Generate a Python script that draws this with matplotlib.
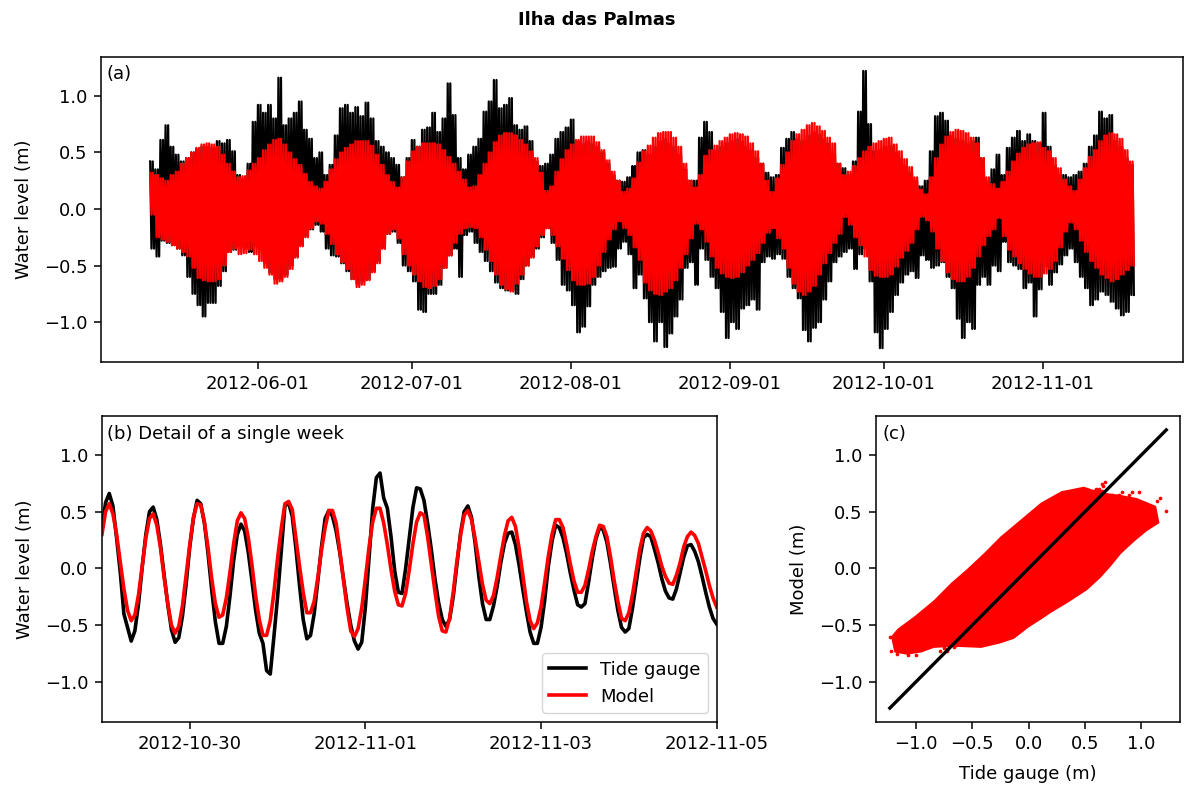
import matplotlib.pyplot as plt
import matplotlib.dates as mdates
import numpy as np
import pandas as pd

# daily high / low water levels (m), 2012-05-11 .. 2012-11-18
gauge_high = [0.42, 0.35, 0.61, 0.74, 0.55, 0.48, 0.42, 0.45, 0.50, 0.53,
              0.55, 0.55, 0.54, 0.60, 0.58, 0.61, 0.51, 0.30, 0.27, 0.40,
              0.77, 0.92, 0.85, 0.92, 0.80, 1.16, 0.74, 0.80, 0.85, 0.95,
              0.70, 0.62, 0.45, 0.50, 0.30, 0.39, 0.65, 0.89, 0.92, 0.85,
              0.90, 0.82, 0.94, 0.80, 0.60, 0.55, 0.50, 0.45, 0.39, 0.28,
              0.45, 0.61, 0.55, 0.70, 0.72, 0.85, 0.68, 0.80, 1.11, 0.83,
              0.45, 0.35, 0.48, 0.55, 0.62, 0.86, 0.95, 1.14, 0.89, 0.92,
              0.98, 0.74, 0.70, 0.73, 0.60, 0.42, 0.38, 0.40, 0.48, 0.62,
              0.68, 0.72, 0.79, 0.60, 0.58, 0.60, 0.58, 0.55, 0.50, 0.40,
              0.30, 0.25, 0.24, 0.28, 0.38, 0.50, 0.52, 0.48, 0.55, 0.60,
              0.62, 0.58, 0.55, 0.48, 0.35, 0.25, 0.25, 0.63, 0.77, 0.68,
              0.52, 0.55, 0.58, 0.60, 0.62, 0.60, 0.55, 0.52, 0.45, 0.40,
              0.32, 0.28, 0.30, 0.54, 0.62, 0.68, 0.62, 0.60, 0.65, 0.68,
              0.66, 0.62, 0.58, 0.48, 0.40, 0.36, 0.30, 0.42, 0.86, 1.22,
              0.75, 0.51, 0.52, 0.55, 0.56, 0.50, 0.45, 0.38, 0.32, 0.25,
              0.20, 0.25, 0.51, 0.82, 0.85, 0.78, 0.65, 0.62, 0.60, 0.58,
              0.60, 0.63, 0.45, 0.24, 0.35, 0.48, 0.30, 0.54, 0.63, 0.69,
              0.60, 0.66, 0.60, 0.58, 0.85, 0.55, 0.38, 0.30, 0.30, 0.28,
              0.30, 0.33, 0.40, 0.55, 0.65, 0.86, 0.80, 0.83, 0.60, 0.55,
              0.45, 0.39]
gauge_low = [-0.35, -0.42, -0.28, -0.30, -0.32, -0.35, -0.41, -0.60, -0.75, -0.85,
             -0.95, -0.83, -0.83, -0.68, -0.55, -0.38, -0.36, -0.33, -0.35, -0.38,
             -0.33, -0.35, -0.48, -0.56, -0.62, -0.62, -0.58, -0.50, -0.42, -0.32,
             -0.24, -0.18, -0.14, -0.20, -0.35, -0.41, -0.42, -0.48, -0.55, -0.62,
             -0.66, -0.64, -0.62, -0.55, -0.46, -0.35, -0.22, -0.20, -0.30, -0.50,
             -0.55, -0.64, -0.89, -0.91, -0.75, -0.75, -0.67, -0.52, -0.41, -0.35,
             -0.60, -0.23, -0.20, -0.30, -0.38, -0.46, -0.55, -0.65, -0.70, -0.72,
             -0.72, -0.75, -0.62, -0.50, -0.42, -0.35, -0.25, -0.17, -0.30, -0.45,
             -0.67, -0.72, -0.85, -1.09, -1.04, -0.86, -0.67, -0.60, -0.55, -0.52,
             -0.51, -0.35, -0.29, -0.40, -0.70, -0.58, -0.79, -1.00, -1.17, -1.00,
             -1.22, -1.10, -0.95, -0.80, -0.52, -0.47, -0.67, -0.35, -0.45, -0.60,
             -0.70, -0.91, -1.14, -1.00, -1.06, -0.88, -0.85, -0.80, -0.89, -0.47,
             -0.42, -0.44, -0.40, -0.44, -0.60, -0.70, -0.79, -1.07, -1.17, -1.05,
             -1.00, -0.80, -0.64, -0.47, -0.42, -0.38, -0.35, -0.53, -0.40, -0.35,
             -0.64, -1.09, -1.23, -1.06, -0.91, -0.76, -0.65, -0.58, -0.55, -0.61,
             -0.41, -0.45, -0.52, -0.50, -0.47, -0.60, -0.70, -0.97, -1.14, -1.00,
             -1.06, -0.67, -0.60, -0.67, -0.50, -0.55, -0.29, -0.47, -0.50, -0.53,
             -0.70, -0.65, -0.95, -0.71, -0.51, -0.67, -0.56, -0.49, -0.41, -0.35,
             -0.47, -0.60, -0.70, -0.85, -0.80, -0.73, -0.76, -0.82, -0.88, -0.94,
             -0.91, -0.76]
model_high = [0.32, 0.30, 0.27, 0.25, 0.30, 0.33, 0.40, 0.45, 0.50, 0.54,
              0.57, 0.58, 0.57, 0.55, 0.48, 0.40, 0.33, 0.28, 0.29, 0.34,
              0.40, 0.45, 0.52, 0.57, 0.61, 0.62, 0.57, 0.50, 0.44, 0.39,
              0.31, 0.24, 0.20, 0.18, 0.24, 0.35, 0.44, 0.50, 0.54, 0.57,
              0.60, 0.60, 0.60, 0.56, 0.48, 0.39, 0.30, 0.24, 0.19, 0.28,
              0.42, 0.51, 0.55, 0.58, 0.58, 0.58, 0.57, 0.52, 0.46, 0.40,
              0.33, 0.26, 0.19, 0.20, 0.30, 0.40, 0.50, 0.59, 0.65, 0.67,
              0.67, 0.65, 0.61, 0.57, 0.51, 0.45, 0.32, 0.16, 0.20, 0.33,
              0.44, 0.52, 0.57, 0.61, 0.64, 0.64, 0.64, 0.59, 0.52, 0.43,
              0.33, 0.25, 0.15, 0.18, 0.27, 0.41, 0.51, 0.56, 0.63, 0.67,
              0.68, 0.68, 0.63, 0.55, 0.40, 0.25, 0.19, 0.30, 0.47, 0.52,
              0.56, 0.60, 0.63, 0.66, 0.67, 0.66, 0.64, 0.58, 0.51, 0.40,
              0.25, 0.15, 0.27, 0.39, 0.50, 0.60, 0.66, 0.70, 0.74, 0.76,
              0.73, 0.69, 0.63, 0.58, 0.40, 0.30, 0.33, 0.38, 0.45, 0.51,
              0.55, 0.58, 0.60, 0.62, 0.63, 0.57, 0.51, 0.44, 0.37, 0.28,
              0.17, 0.13, 0.28, 0.45, 0.57, 0.64, 0.68, 0.70, 0.69, 0.67,
              0.63, 0.58, 0.45, 0.28, 0.22, 0.18, 0.24, 0.33, 0.42, 0.49,
              0.54, 0.57, 0.58, 0.59, 0.54, 0.51, 0.45, 0.36, 0.26, 0.20,
              0.16, 0.26, 0.36, 0.46, 0.52, 0.60, 0.65, 0.67, 0.66, 0.62,
              0.52, 0.42]
model_low = [-0.05, -0.25, -0.27, -0.29, -0.32, -0.35, -0.38, -0.42, -0.52, -0.61,
             -0.63, -0.64, -0.64, -0.62, -0.50, -0.38, -0.35, -0.40, -0.39, -0.36,
             -0.40, -0.46, -0.52, -0.58, -0.66, -0.64, -0.60, -0.53, -0.43, -0.33,
             -0.25, -0.17, -0.11, -0.13, -0.22, -0.31, -0.40, -0.47, -0.53, -0.62,
             -0.69, -0.67, -0.63, -0.56, -0.48, -0.35, -0.22, -0.18, -0.26, -0.40,
             -0.50, -0.58, -0.64, -0.69, -0.70, -0.68, -0.62, -0.52, -0.41, -0.30,
             -0.22, -0.17, -0.16, -0.17, -0.25, -0.36, -0.46, -0.58, -0.67, -0.71,
             -0.73, -0.66, -0.58, -0.50, -0.43, -0.33, -0.23, -0.17, -0.23, -0.33,
             -0.44, -0.54, -0.63, -0.67, -0.67, -0.66, -0.60, -0.50, -0.38, -0.27,
             -0.18, -0.11, -0.17, -0.23, -0.34, -0.45, -0.65, -0.72, -0.75, -0.76,
             -0.73, -0.70, -0.63, -0.52, -0.40, -0.26, -0.13, -0.18, -0.29, -0.42,
             -0.52, -0.57, -0.60, -0.61, -0.60, -0.56, -0.50, -0.45, -0.39, -0.30,
             -0.21, -0.17, -0.26, -0.35, -0.52, -0.66, -0.73, -0.76, -0.73, -0.68,
             -0.58, -0.48, -0.39, -0.30, -0.22, -0.07, -0.14, -0.25, -0.32, -0.42,
             -0.54, -0.59, -0.60, -0.60, -0.58, -0.51, -0.43, -0.37, -0.30, -0.18,
             -0.07, -0.10, -0.20, -0.35, -0.46, -0.56, -0.62, -0.64, -0.64, -0.60,
             -0.52, -0.42, -0.32, -0.24, -0.18, -0.08, -0.24, -0.36, -0.42, -0.48,
             -0.53, -0.57, -0.60, -0.60, -0.57, -0.53, -0.46, -0.34, -0.20, -0.12,
             -0.18, -0.28, -0.38, -0.46, -0.52, -0.58, -0.61, -0.64, -0.62, -0.58,
             -0.54, -0.50]

# detail week, hourly, 2012-10-29 00:00 .. 2012-11-05 00:00
gauge_week = [0.35, 0.58, 0.66, 0.55, 0.27, -0.03, -0.40, -0.52, -0.64, -0.55,
              -0.31, 0.01, 0.30, 0.50, 0.54, 0.43, 0.21, -0.06, -0.32, -0.54,
              -0.65, -0.61, -0.42, -0.14, 0.19, 0.44, 0.60, 0.57, 0.40, 0.13,
              -0.19, -0.47, -0.66, -0.66, -0.51, -0.24, 0.07, 0.30, 0.39, 0.33,
              0.14, -0.11, -0.37, -0.57, -0.66, -0.90, -0.93, -0.60, -0.25, 0.15,
              0.55, 0.58, 0.46, 0.18, -0.15, -0.45, -0.62, -0.59, -0.40, -0.11,
              0.19, 0.44, 0.51, 0.46, 0.33, 0.14, -0.09, -0.31, -0.50, -0.64,
              -0.71, -0.65, -0.34, 0.09, 0.53, 0.80, 0.84, 0.62, 0.53, 0.28,
              -0.02, -0.21, -0.22, 0.00, 0.27, 0.54, 0.71, 0.70, 0.60, 0.40,
              0.17, -0.09, -0.30, -0.45, -0.51, -0.45, -0.25, 0.03, 0.31, 0.50,
              0.55, 0.45, 0.22, -0.07, -0.31, -0.45, -0.45, -0.33, -0.16, 0.05,
              0.22, 0.31, 0.32, 0.21, 0.03, -0.18, -0.38, -0.56, -0.66, -0.66,
              -0.52, -0.28, 0.02, 0.24, 0.38, 0.36, 0.27, 0.13, -0.04, -0.19,
              -0.32, -0.34, -0.31, -0.12, 0.09, 0.26, 0.36, 0.34, 0.23, 0.04,
              -0.17, -0.37, -0.52, -0.56, -0.53, -0.35, -0.13, 0.09, 0.27, 0.30,
              0.28, 0.17, 0.05, -0.09, -0.20, -0.26, -0.27, -0.18, -0.04, 0.10,
              0.20, 0.21, 0.15, 0.06, -0.07, -0.21, -0.34, -0.44, -0.49]
model_week = [0.30, 0.50, 0.57, 0.48, 0.30, 0.06, -0.18, -0.37, -0.46, -0.41,
              -0.23, 0.02, 0.27, 0.44, 0.48, 0.38, 0.18, -0.08, -0.31, -0.50,
              -0.57, -0.51, -0.33, -0.06, 0.21, 0.45, 0.57, 0.56, 0.41, 0.18,
              -0.09, -0.31, -0.43, -0.41, -0.26, -0.03, 0.22, 0.42, 0.49, 0.44,
              0.27, 0.03, -0.24, -0.45, -0.59, -0.59, -0.46, -0.21, 0.09, 0.35,
              0.57, 0.59, 0.52, 0.27, 0.02, -0.21, -0.39, -0.39, -0.29, -0.08,
              0.16, 0.36, 0.51, 0.51, 0.40, 0.16, -0.10, -0.35, -0.55, -0.60,
              -0.53, -0.35, -0.09, 0.19, 0.41, 0.53, 0.53, 0.40, 0.21, -0.01,
              -0.20, -0.32, -0.33, -0.22, -0.01, 0.22, 0.41, 0.49, 0.47, 0.28,
              0.04, -0.20, -0.42, -0.55, -0.56, -0.44, -0.21, 0.06, 0.29, 0.47,
              0.51, 0.43, 0.26, 0.06, -0.14, -0.28, -0.31, -0.24, -0.08, 0.11,
              0.29, 0.42, 0.45, 0.37, 0.18, -0.05, -0.29, -0.46, -0.53, -0.48,
              -0.34, -0.12, 0.11, 0.30, 0.43, 0.43, 0.36, 0.21, 0.04, -0.11,
              -0.21, -0.21, -0.15, -0.01, 0.15, 0.28, 0.38, 0.37, 0.28, 0.10,
              -0.11, -0.29, -0.44, -0.46, -0.39, -0.23, -0.03, 0.17, 0.31, 0.36,
              0.33, 0.25, 0.14, 0.02, -0.07, -0.13, -0.14, -0.06, 0.05, 0.19,
              0.28, 0.32, 0.29, 0.22, 0.10, -0.02, -0.15, -0.26, -0.34]

# outline of the dense hourly point cloud in (c)
cloud_gauge = [-1.22, -1.19, -1.08, -0.95, -0.84, -0.66, -0.42, -0.25, -0.13, 0.00,
               0.11, 0.20, 0.35, 0.52, 0.64, 0.73, 0.82, 0.94, 1.05, 1.16,
               1.13, 0.96, 0.80, 0.64, 0.49, 0.29, 0.11, -0.07, -0.25, -0.39,
               -0.54, -0.69, -0.84, -1.01, -1.16]
cloud_model = [-0.60, -0.74, -0.76, -0.74, -0.70, -0.69, -0.70, -0.66, -0.62, -0.52,
               -0.45, -0.39, -0.30, -0.19, -0.08, 0.02, 0.13, 0.24, 0.33, 0.40,
               0.55, 0.62, 0.65, 0.67, 0.72, 0.68, 0.58, 0.43, 0.28, 0.14,
               0.00, -0.13, -0.28, -0.42, -0.53]

month_ticks = ['2012-06-01', '2012-07-01', '2012-08-01', '2012-09-01', '2012-10-01', '2012-11-01']
week_ticks = ['2012-10-30', '2012-11-01', '2012-11-03', '2012-11-05']
level_ticks = [-1.0, -0.5, 0.0, 0.5, 1.0]

plt.rcParams['font.family'] = 'DejaVu Sans'
plt.rcParams['font.size'] = 13
plt.rcParams['axes.linewidth'] = 1.1
plt.rcParams['axes.labelpad'] = 8
plt.rcParams['xtick.major.width'] = 1.1
plt.rcParams['ytick.major.width'] = 1.1
plt.rcParams['xtick.major.size'] = 4.7
plt.rcParams['ytick.major.size'] = 4.7
plt.rcParams['xtick.major.pad'] = 5
plt.rcParams['ytick.major.pad'] = 5

# two tides a day: high 00h, low 06h, high 12h, low 18h
days = pd.date_range('2012-05-11', periods=len(gauge_high), freq='D')
t_full = np.empty(4 * len(days), dtype='datetime64[ns]')
gauge_full = np.empty(4 * len(days))
model_full = np.empty(4 * len(days))
for k in range(4):
    t_full[k::4] = (days + pd.Timedelta(hours=6 * k)).values
    gauge_full[k::4] = gauge_high if k % 2 == 0 else gauge_low
    model_full[k::4] = model_high if k % 2 == 0 else model_low

t_week = pd.date_range('2012-10-29', periods=len(gauge_week), freq='h')

fig = plt.figure(figsize=(11.84, 7.87), dpi=100)
ax_a = fig.add_axes([0.0853, 0.540, 0.9139, 0.3875])
ax_b = fig.add_axes([0.0861, 0.0826, 0.5192, 0.3888])
ax_c = fig.add_axes([0.7399, 0.0826, 0.2568, 0.3888])

# (a) whole record
ax_a.plot(t_full, gauge_full, color='black', lw=1.6)
ax_a.plot(t_full, model_full, color='red', lw=1.6)
ax_a.set_xticks(pd.to_datetime(month_ticks))
ax_a.xaxis.set_major_formatter(mdates.DateFormatter('%Y-%m-%d'))
ax_a.set_yticks(level_ticks)
ax_a.set_ylabel('Water level (m)')
ax_a.text(0.005, 0.975, '(a)', transform=ax_a.transAxes, ha='left', va='top')
ylim = ax_a.get_ylim()

# (b) one week
ax_b.plot(t_week, gauge_week, color='black', lw=2.6, label='Tide gauge')
ax_b.plot(t_week, model_week, color='red', lw=2.6, label='Model')
ax_b.set_xlim(pd.Timestamp('2012-10-29'), pd.Timestamp('2012-11-05'))
ax_b.set_xticks(pd.to_datetime(week_ticks))
ax_b.xaxis.set_major_formatter(mdates.DateFormatter('%Y-%m-%d'))
ax_b.set_ylim(ylim)
ax_b.set_yticks(level_ticks)
ax_b.set_ylabel('Water level (m)')
ax_b.text(0.008, 0.97, '(b) Detail of a single week', transform=ax_b.transAxes, ha='left', va='top')
ax_b.legend(loc='lower right')

# (c) model vs gauge: dense body of the cloud + individual pairs
ax_c.fill(cloud_gauge, cloud_model, color='red', lw=0, zorder=1)
gx = np.concatenate([gauge_high, gauge_low, gauge_week])
my = np.concatenate([model_high, model_low, model_week])
ax_c.scatter(gx, my, s=7, color='red', linewidths=0, zorder=2)
lo, hi = min(gauge_low), max(gauge_high)
ax_c.plot([lo, hi], [lo, hi], color='black', lw=2.4, zorder=3)
ax_c.set_xlim(ylim)
ax_c.set_ylim(ylim)
ax_c.set_xticks(level_ticks)
ax_c.set_yticks(level_ticks)
ax_c.set_xlabel('Tide gauge (m)')
ax_c.set_ylabel('Model (m)')
ax_c.text(0.02, 0.97, '(c)', transform=ax_c.transAxes, ha='left', va='top')

fig.text(0.504, 0.975, 'Ilha das Palmas', ha='center', va='center', fontweight='bold', fontsize=13)

fig.savefig('out.png', dpi=100)
